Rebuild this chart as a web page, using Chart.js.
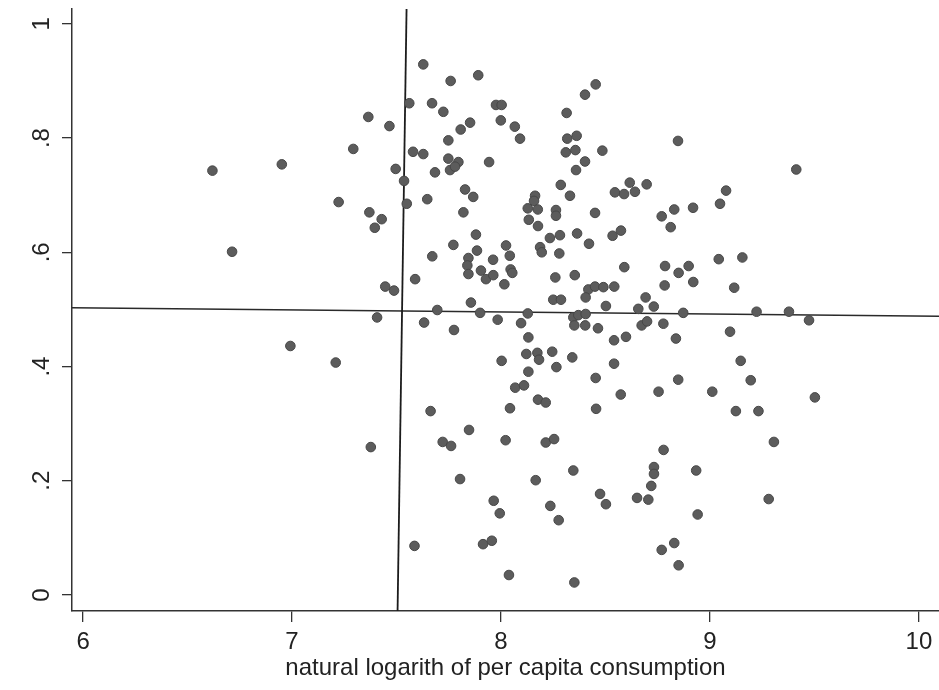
<!DOCTYPE html>
<html>
<head>
<meta charset="utf-8">
<script src="https://cdn.jsdelivr.net/npm/chart.js@4"></script>
<style>
  body { margin: 0; background: #fff; }
</style>
</head>
<body>
<canvas id="scatter" width="939" height="690"></canvas>
<script>
const xTicks = [6, 7, 8, 9, 10];
const yTicks = [0, 0.2, 0.4, 0.6, 0.8, 1];
const yTickLabels = ['0', '.2', '.4', '.6', '.8', '1'];
const xTitle = 'natural logarith of per capita consumption';

// [log per capita consumption, share]
const households = [
  [6.619, 0.743], [6.951, 0.754], [7.293, 0.781], [7.365, 0.837], [7.466, 0.821], [7.561, 0.861],
  [7.579, 0.776], [7.496, 0.746], [7.536, 0.725], [7.549, 0.685], [7.223, 0.688], [7.370, 0.670],
  [7.429, 0.658], [7.396, 0.643],
  [7.628, 0.929], [7.759, 0.900], [7.891, 0.910], [7.670, 0.861], [7.724, 0.846], [7.976, 0.858],
  [8.003, 0.858], [7.852, 0.827], [7.807, 0.815], [7.999, 0.831], [8.066, 0.820], [8.091, 0.799],
  [7.748, 0.796], [7.628, 0.772], [7.748, 0.764], [7.796, 0.758], [7.756, 0.744], [7.780, 0.750],
  [7.684, 0.740], [7.943, 0.758], [7.828, 0.710], [7.867, 0.697], [7.647, 0.693], [7.820, 0.670],
  [8.314, 0.844], [8.402, 0.876], [8.453, 0.894], [8.317, 0.799], [8.362, 0.804], [8.310, 0.775],
  [8.356, 0.779], [8.485, 0.778], [8.402, 0.759], [8.359, 0.744], [8.286, 0.718], [8.330, 0.699],
  [8.163, 0.699], [8.158, 0.690], [8.128, 0.677], [8.176, 0.675], [8.263, 0.674], [8.263, 0.664],
  [8.133, 0.657], [8.177, 0.646], [8.450, 0.669], [8.545, 0.705], [8.589, 0.702], [8.616, 0.722],
  [8.641, 0.706],
  [8.847, 0.795], [9.413, 0.745], [8.697, 0.719], [9.077, 0.708], [9.048, 0.685], [8.919, 0.678],
  [8.829, 0.675], [8.769, 0.663], [8.812, 0.644],
  [6.713, 0.601], [7.446, 0.540], [7.488, 0.533], [7.589, 0.553], [7.407, 0.486], [6.992, 0.436],
  [7.209, 0.407],
  [7.880, 0.631], [7.772, 0.613], [7.671, 0.593], [7.885, 0.603], [7.844, 0.590], [7.839, 0.577],
  [7.844, 0.562], [7.904, 0.568], [7.928, 0.553], [7.963, 0.560], [7.962, 0.587], [8.024, 0.612],
  [8.042, 0.594], [8.046, 0.570], [8.054, 0.564], [8.016, 0.544], [8.234, 0.625], [8.282, 0.630],
  [8.364, 0.633], [8.421, 0.615], [8.187, 0.609], [8.195, 0.600], [8.279, 0.598], [8.534, 0.629],
  [8.574, 0.638], [8.590, 0.574], [8.260, 0.556], [8.353, 0.560], [8.250, 0.517], [8.287, 0.517],
  [8.418, 0.535], [8.450, 0.540], [8.490, 0.539], [8.542, 0.540], [8.405, 0.521], [8.502, 0.506],
  [7.856, 0.512], [7.695, 0.499], [7.900, 0.494], [7.984, 0.482], [8.128, 0.493], [7.632, 0.477],
  [7.775, 0.464], [8.096, 0.476], [8.346, 0.486], [8.370, 0.490], [8.405, 0.492], [8.351, 0.472],
  [8.403, 0.472], [8.464, 0.467], [8.541, 0.446], [8.598, 0.452], [8.131, 0.451], [8.121, 0.422],
  [8.174, 0.424], [8.182, 0.412], [8.245, 0.426], [8.341, 0.416], [8.003, 0.410], [8.265, 0.399],
  [8.131, 0.391], [8.541, 0.405], [8.453, 0.380], [8.068, 0.363], [8.110, 0.367], [8.177, 0.342],
  [8.214, 0.337], [8.043, 0.327], [8.455, 0.326], [8.573, 0.351], [7.663, 0.322],
  [8.785, 0.576], [8.850, 0.564], [8.898, 0.576], [9.042, 0.588], [9.155, 0.591], [8.783, 0.542],
  [8.920, 0.548], [9.116, 0.538], [8.692, 0.521], [8.657, 0.501], [8.731, 0.505], [8.872, 0.494],
  [9.223, 0.496], [9.378, 0.496], [9.474, 0.481], [8.673, 0.472], [8.699, 0.479], [8.777, 0.475],
  [8.837, 0.449], [9.096, 0.461], [9.147, 0.410], [8.848, 0.377], [9.195, 0.376], [8.754, 0.356],
  [9.011, 0.356], [9.502, 0.346], [9.124, 0.322], [9.232, 0.322],
  [7.377, 0.259], [7.586, 0.086],
  [7.847, 0.289], [7.721, 0.268], [7.761, 0.261], [8.022, 0.271], [8.214, 0.267], [8.254, 0.273],
  [8.346, 0.218], [7.804, 0.203], [8.166, 0.201], [8.474, 0.177], [8.502, 0.159], [8.651, 0.170],
  [7.965, 0.165], [7.994, 0.143], [8.236, 0.156], [8.276, 0.131], [7.914, 0.089], [7.956, 0.095],
  [8.038, 0.035], [8.351, 0.022],
  [9.306, 0.268], [8.778, 0.254], [8.732, 0.224], [8.732, 0.212], [8.934, 0.218], [8.719, 0.191],
  [8.705, 0.167], [9.281, 0.168], [8.941, 0.141], [8.829, 0.091], [8.769, 0.079], [8.850, 0.052]
];

// reference lines, as they appear on the (slightly tilted) scan
const xLine = [[7.548, 1.026], [7.505, -0.028]];
const yLine = [[5.947, 0.503], [10.096, 0.488]];

const toPts = arr => arr.map(p => ({ x: p[0], y: p[1] }));
const font = '"Liberation Sans", Arial, Helvetica, sans-serif';

// Stata style vertical y labels
const yLabels = {
  id: 'yLabels',
  afterDraw(chart) {
    const ctx = chart.ctx;
    const sc = chart.scales.y;
    ctx.save();
    ctx.fillStyle = '#222';
    ctx.font = '24px ' + font;
    ctx.textAlign = 'center';
    ctx.textBaseline = 'middle';
    yTicks.forEach((v, i) => {
      ctx.save();
      ctx.translate(42, sc.getPixelForValue(v));
      ctx.rotate(-Math.PI / 2);
      ctx.fillText(yTickLabels[i], 0, 0);
      ctx.restore();
    });
    ctx.restore();
  }
};

new Chart(document.getElementById('scatter'), {
  type: 'scatter',
  data: {
    datasets: [
      {
        data: toPts(households),
        backgroundColor: '#5c5c5c',
        borderColor: '#474747',
        borderWidth: 1,
        pointRadius: 4.8,
        order: 1
      },
      { type: 'line', data: toPts(xLine), borderColor: '#1c1c1c', borderWidth: 1.8, pointRadius: 0, order: 2 },
      { type: 'line', data: toPts(yLine), borderColor: '#2a2a2a', borderWidth: 1.4, pointRadius: 0, order: 2 }
    ]
  },
  options: {
    responsive: false,
    animation: false,
    layout: { autoPadding: false, padding: { top: 9, left: 0, right: 0, bottom: 0 } },
    plugins: { legend: { display: false }, tooltip: { enabled: false } },
    scales: {
      x: {
        type: 'linear',
        min: 5.947,
        max: 10.096,
        afterBuildTicks: s => { s.ticks = xTicks.map(v => ({ value: v })); },
        afterFit: s => { s.height = 79; s.paddingLeft = 0; s.paddingRight = 0; },
        grid: { display: true, drawOnChartArea: false, tickLength: 11, color: '#333', lineWidth: 1.3 },
        border: { display: true, color: '#333', width: 1.5 },
        ticks: { font: { family: font, size: 24 }, color: '#222', padding: 6, maxRotation: 0, autoSkip: false },
        title: { display: true, text: xTitle, font: { family: font, size: 24 }, color: '#222', padding: { top: 0, bottom: 7 } }
      },
      y: {
        type: 'linear',
        min: -0.028,
        max: 1.026,
        afterBuildTicks: s => { s.ticks = yTicks.map(v => ({ value: v })); },
        afterFit: s => { s.width = 72; s.paddingTop = 0; s.paddingBottom = 0; },
        grid: { display: true, drawOnChartArea: false, tickLength: 10, color: '#333', lineWidth: 1.3 },
        border: { display: true, color: '#333', width: 1.5 },
        ticks: { display: false }
      }
    }
  },
  plugins: [yLabels]
});
</script>
</body>
</html>
